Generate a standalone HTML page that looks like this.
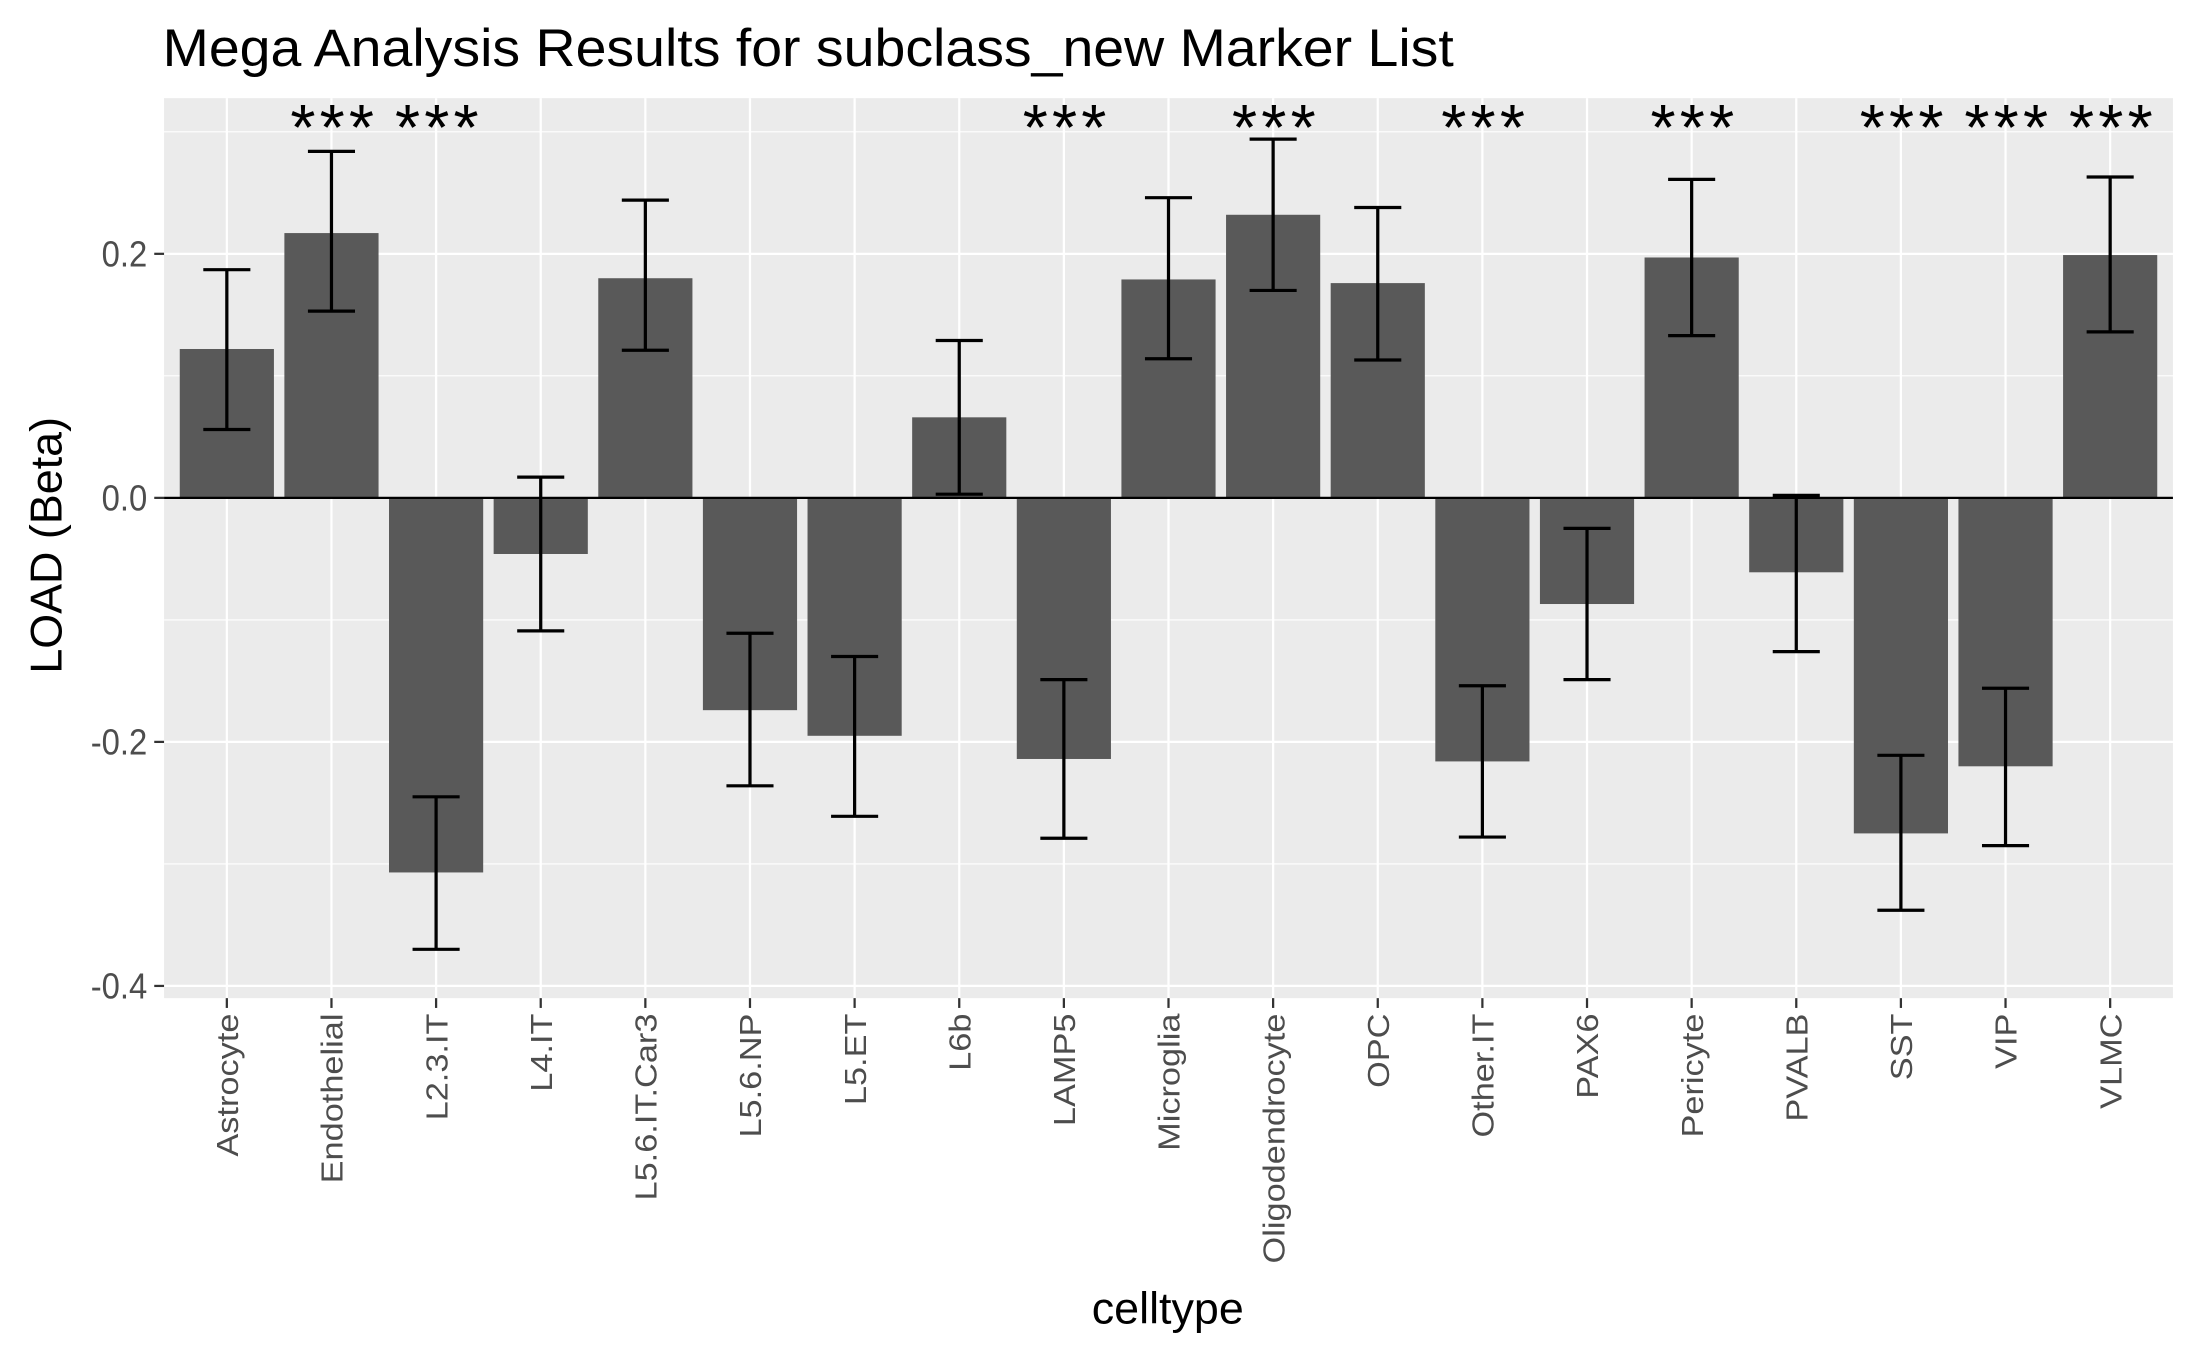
<!DOCTYPE html>
<html><head><meta charset="utf-8"><style>
html,body{margin:0;padding:0;background:#fff}
svg{display:block}
text{font-family:"Liberation Sans",Arial,sans-serif}
</style></head><body>
<svg id="chart" width="2187" height="1350" viewBox="0 0 1560 963" xmlns="http://www.w3.org/2000/svg">
<text x="116" y="47" font-size="38" fill="#000" textLength="921" lengthAdjust="spacingAndGlyphs">Mega Analysis Results for subclass_new Marker List</text>
<rect x="117" y="70" width="1433" height="642" fill="#ebebeb"/>
<g id="grid"></g>
<g id="bars"></g>
<g id="axes"></g>
<text transform="translate(44,389) rotate(-90)" text-anchor="middle" font-size="32" fill="#000">LOAD (Beta)</text>
<text x="833" y="944" text-anchor="middle" font-size="32" fill="#000">celltype</text>
</svg>
<script>
const categories = ["Astrocyte","Endothelial","L2.3.IT","L4.IT","L5.6.IT.Car3","L5.6.NP","L5.ET","L6b","LAMP5","Microglia","Oligodendrocyte","OPC","Other.IT","PAX6","Pericyte","PVALB","SST","VIP","VLMC"];
const betas = [0.122,0.217,-0.307,-0.046,0.180,-0.174,-0.195,0.066,-0.214,0.179,0.232,0.176,-0.216,-0.087,0.197,-0.061,-0.275,-0.220,0.199];
const errUpper = [0.187,0.284,-0.245,0.017,0.244,-0.111,-0.130,0.129,-0.149,0.246,0.294,0.238,-0.154,-0.025,0.261,0.002,-0.211,-0.156,0.263];
const errLower = [0.056,0.153,-0.370,-0.109,0.121,-0.236,-0.261,0.003,-0.279,0.114,0.170,0.113,-0.278,-0.149,0.133,-0.126,-0.338,-0.285,0.136];
const significance = ["","***","***","","","","","","***","","***","","***","","***","","***","***","***"];
const yTicks = [-0.4,-0.2,0.0,0.2];
const yTickLabels = ["-0.4","-0.2","0.0","0.2"];
const yMinor = [-0.3,-0.1,0.1,0.3];

const PL=117, PR=1550, PT=70, PB=712;
const yMin=-0.41, yMax=0.3276;
function y(v){ return PB - (v - yMin)/(yMax - yMin)*(PB-PT); }
const n = categories.length;
const step = (PR-PL)/(n+0.2);
function x(i){ return PL + step*(i+0.6); }
const NS="http://www.w3.org/2000/svg";
function mk(tag, attrs, parent){ const e=document.createElementNS(NS,tag); for(const k in attrs) e.setAttribute(k,attrs[k]); parent.appendChild(e); return e; }
const grid=document.getElementById('grid'), bars=document.getElementById('bars'), axes=document.getElementById('axes');

yMinor.forEach(v=>{
  const l=mk('line',{x1:PL,x2:PR,y1:y(v),y2:y(v),stroke:'#fff','stroke-width':0.8},grid);
  
  
});
yTicks.forEach((v,k)=>{
  const l=mk('line',{x1:PL,x2:PR,y1:y(v),y2:y(v),stroke:'#fff','stroke-width':1.6},grid);
  
  
  const t=mk('line',{x1:PL-7,x2:PL,y1:y(v),y2:y(v),stroke:'#333','stroke-width':1.6},axes);
  
  
  const tx=mk('text',{transform:`translate(${PL-12},${y(v)+9}) scale(0.9,1)`,'text-anchor':'end','font-size':26,fill:'#4d4d4d'},axes);
  tx.textContent=yTickLabels[k];
  
  
});
categories.forEach((c,i)=>{
  const cx=x(i);
  const g=mk('line',{x1:cx,x2:cx,y1:PT,y2:PB,stroke:'#fff','stroke-width':1.6},grid);
  
  
  const bw=step*0.9;
  const top=Math.min(y(0),y(betas[i])), h=Math.abs(y(betas[i])-y(0));
  const b=mk('rect',{x:cx-bw/2,y:top,width:bw,height:h,fill:'#595959'},bars);
  
  
  const hw=step*0.225;
  const e=mk('path',{d:`M${cx-hw},${y(errUpper[i])}H${cx+hw}M${cx},${y(errUpper[i])}V${y(errLower[i])}M${cx-hw},${y(errLower[i])}H${cx+hw}`,stroke:'#000','stroke-width':2.3,fill:'none'},bars);
  
  
  if(significance[i]){
    const s=mk('text',{x:cx+2,y:y(0.307)+19,'text-anchor':'middle','font-size':46,'letter-spacing':'3',fill:'#000'},bars);
    s.textContent=significance[i];
    
    
  }
  const t=mk('line',{x1:cx,x2:cx,y1:PB,y2:PB+7,stroke:'#333','stroke-width':1.6},axes);
  
  
  const tx=mk('text',{transform:`translate(${cx+8},${PB+11}) rotate(-90) scale(1.02,0.9)`,'text-anchor':'end','font-size':24,fill:'#4d4d4d'},axes);
  tx.textContent=c;
  
  
});
const z=mk('line',{x1:PL,x2:PR,y1:y(0),y2:y(0),stroke:'#000','stroke-width':1.6},bars);


</script>
</body></html>
